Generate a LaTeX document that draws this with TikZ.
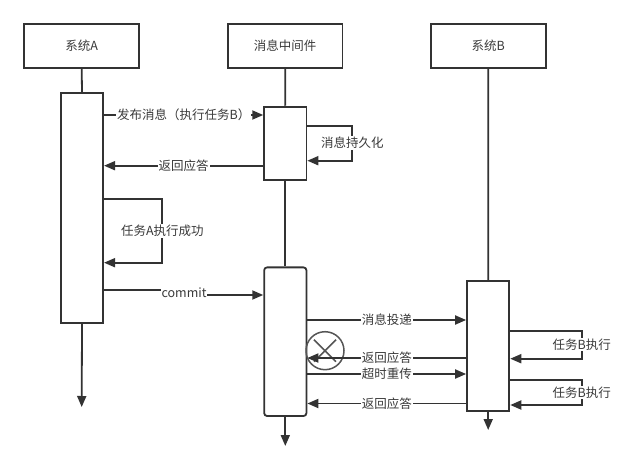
\documentclass[tikz,border=0pt]{standalone}
\usepackage{fontspec}
\setmainfont{Noto Sans CJK SC}
\usetikzlibrary{arrows.meta,calc}
\definecolor{ink}{HTML}{333333}
\definecolor{txt}{HTML}{3A3A3A}
\definecolor{xgray}{HTML}{555555}
\begin{document}
\begin{tikzpicture}[x=1pt,y=-1pt,
  every node/.style={font=\fontsize{12.5}{14}\selectfont, text=txt},
  line/.style={draw=ink, line width=1.8pt},
  msg/.style={line, -{Triangle[length=11pt,width=9pt]}},
  header/.style={draw=ink, line width=1.8pt, minimum width=114.7pt, minimum height=43.7pt, inner sep=0pt},
  actbox/.style={draw=ink, line width=1.8pt, fill=white, inner sep=0pt, minimum width=42.3pt},
  lbl/.style={fill=white, inner sep=1pt}
]
\useasboundingbox (0,0) rectangle (626,468);

% headers
\node[header] (hdrA) at (81.7,46) {系统A};
\node[header] (hdrM) at (285.2,46) {消息中间件};
\node[header] (hdrB) at (488.3,46) {系统B};

% ends of lifelines
\coordinate (endA) at (81.7,407);
\coordinate (endM) at (285.3,446);
\coordinate (endB) at (488.2,430);

% activation boxes
\node[actbox, minimum height=229.4pt] (actA) at (82,208) {};
\node[actbox, minimum height=73.3pt] (actM1) at (285.3,143.3) {};
\node[actbox, minimum height=148.7pt, rounded corners=3pt] (actM2) at (285.3,341.7) {};
\node[actbox, minimum height=130pt] (actB) at (488.2,346) {};

% lifelines
\draw[line] (hdrA.south) -- (actA.north);
\draw[msg] (actA.south) -- (endA);
\draw[line] (hdrM.south) -- (actM1.north);
\draw[line] (actM1.south) -- (actM2.north);
\draw[msg] (actM2.south) -- (endM);
\draw[line] (hdrB.south) -- (actB.north);
\draw[msg] (actB.south) -- (endB);

% 1 publish
\draw[msg] (actA.east |- 0,115) -- node[lbl] {发布消息（执行任务B）} (actM1.west |- 0,115);

% 2 persist loop
\draw[msg] (actM1.east |- 0,125.7) -- (352.3,125.7) -- node[lbl] {消息持久化} (352.3,160.7) -- (actM1.east |- 0,160.7);

% 3 reply
\draw[msg] (actM1.west |- 0,165.7) -- node[lbl] {返回应答} (actA.east |- 0,165.7);

% 4 task A loop
\draw[msg] (actA.east |- 0,199) -- (162.3,199) -- node[lbl] {任务A执行成功} (162.3,262.7) -- (actA.east |- 0,262.7);

% 5 commit
\draw[msg] (actA.east |- 0,290) -- (184,290) -- node[lbl] {commit} (184,295) -- (actM2.west |- 0,295);

% 6 deliver
\draw[msg] (actM2.east |- 0,320) -- node[lbl] {消息投递} (actB.west |- 0,320);

% lost reply mark
\node[draw=xgray, line width=1.5pt, circle, minimum size=38pt, inner sep=0pt] (xmark) at (325,350.7) {};
\draw[draw=xgray, line width=1.5pt] ($(xmark.center)+(-11,-11)$) -- ($(xmark.center)+(11,11)$);
\draw[draw=xgray, line width=1.5pt] ($(xmark.center)+(-11,11)$) -- ($(xmark.center)+(11,-11)$);

% 7 reply (lost)
\draw[msg] (actB.west |- 0,358) -- node[lbl] {返回应答} (actM2.east |- 0,358);

% 8 retransmit
\draw[msg] (actM2.east |- 0,374) -- node[lbl] {超时重传} (actB.west |- 0,374);

% 9 reply
\draw[msg] (actB.west |- 0,403.5) -- node[lbl] {返回应答} (actM2.east |- 0,403.5);

% 10, 11 task B loops
\draw[msg] (actB.east |- 0,330.7) -- (581.7,330.7) -- node[lbl] {任务B执行} (581.7,358.7) -- (actB.east |- 0,358.7);
\draw[msg] (actB.east |- 0,379.7) -- (581.7,379.7) -- node[lbl] {任务B执行} (581.7,405) -- (actB.east |- 0,405);
\end{tikzpicture}
\end{document}
